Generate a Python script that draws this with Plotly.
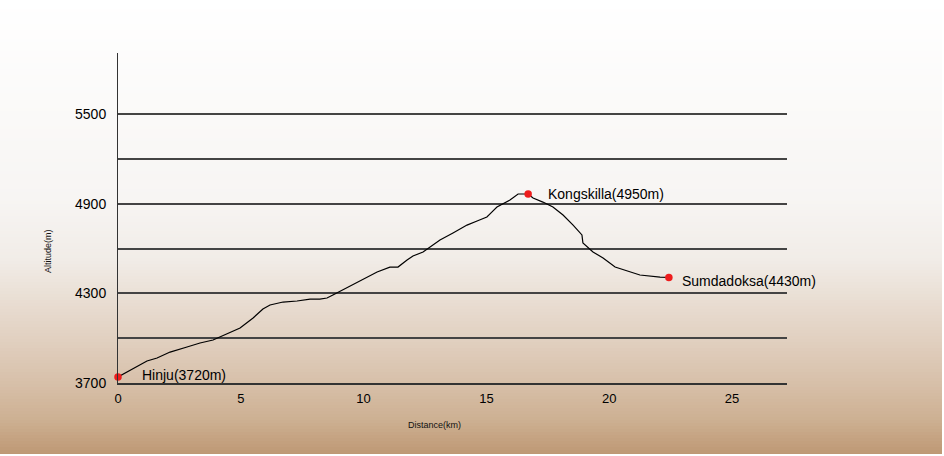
import plotly.graph_objects as go

# Elevation profile (distance in km, altitude in m)
distance_km = [0.0, 1.18, 1.59, 2.12, 2.81, 3.34, 3.87, 4.44, 4.97, 5.50, 5.90, 6.19,
               6.72, 7.29, 7.82, 8.22, 8.51, 8.75, 9.45, 10.14, 10.55, 11.07, 11.40,
               11.77, 12.01, 12.42, 12.83, 13.11, 13.64, 14.21, 14.62, 15.02, 15.23,
               15.43, 15.96, 16.29, 16.70, 16.90, 17.30, 17.71, 18.12, 18.53, 18.89,
               18.93, 19.34, 19.75, 20.24, 20.77, 21.25, 22.07, 22.43]
altitude_m = [3740, 3847, 3867, 3907, 3941, 3968, 3988, 4028, 4068, 4135, 4195, 4222,
              4242, 4249, 4262, 4262, 4269, 4289, 4349, 4409, 4443, 4476, 4476,
              4523, 4550, 4577, 4624, 4657, 4704, 4757, 4784, 4811, 4845,
              4878, 4925, 4965, 4965, 4938, 4911, 4878, 4824, 4757, 4691,
              4637, 4577, 4537, 4476, 4450, 4423, 4409, 4406]

# Named stops
stop_names = ["Hinju", "Kongskilla", "Sumdadoksa"]
stop_label_alt = [3720, 4950, 4430]
stop_km = [0.0, 16.70, 22.43]
stop_alt = [3740, 4965, 4406]

# Axis ticks
y_ticks = [3700, 4000, 4300, 4600, 4900, 5200, 5500]
y_tick_text = ["3700", "", "4300", "", "4900", "", "5500"]
x_ticks = [0, 5, 10, 15, 20, 25]

W, H = 944, 456
L, R, T, B = 118, 157, 53, 73
PW, PH = W - L - R, H - T - B


def px_to_paper_x(px):
    return (px - L) / PW


def py_to_paper_y(py):
    return (H - B - py) / PH


# background gradient (pixel row -> colour)
grad = [(0, (255, 255, 255)), (200, (247, 245, 243)), (260, (241, 236, 231)),
        (300, (233, 222, 211)), (340, (225, 208, 192)), (380, (216, 193, 171)),
        (420, (205, 176, 146)), (454, (190, 152, 116))]


def colour_at(y):
    for (y0, c0), (y1, c1) in zip(grad[:-1], grad[1:]):
        if y0 <= y <= y1:
            t = (y - y0) / (y1 - y0)
            return "rgb(%d,%d,%d)" % tuple(round(a + (b - a) * t) for a, b in zip(c0, c1))
    return "rgb(%d,%d,%d)" % grad[-1][1]


shapes = []
step = 3
for y in range(0, 454, step):
    shapes.append(dict(
        type="rect", xref="paper", yref="paper", layer="below",
        x0=px_to_paper_x(0), x1=px_to_paper_x(942),
        y0=py_to_paper_y(min(y + step + 0.5, 454)), y1=py_to_paper_y(y),
        fillcolor=colour_at(y + step / 2), line=dict(width=0)))

fig = go.Figure()
fig.add_trace(go.Scatter(x=distance_km, y=altitude_m, mode="lines",
                         line=dict(color="black", width=1.2), hoverinfo="skip",
                         showlegend=False))
fig.add_trace(go.Scatter(x=stop_km, y=stop_alt, mode="markers",
                         marker=dict(color="#ee1c1c", size=7.5), showlegend=False,
                         cliponaxis=False))

FONT = "Liberation Sans, Arial, sans-serif"
label_font = dict(family=FONT, size=14, color="#000")
shifts = [(22, 2), (18, 0), (11, -3)]
annotations = []
for name, alt_lbl, xk, ya, (dx, dy) in zip(stop_names, stop_label_alt, stop_km, stop_alt, shifts):
    annotations.append(dict(x=xk, y=ya, xref="x", yref="y", text=f"{name}({alt_lbl}m)",
                            showarrow=False, xanchor="left", yanchor="middle",
                            xshift=dx, yshift=dy, font=label_font))

annotations.append(dict(x=px_to_paper_x(48), y=py_to_paper_y(251), xref="paper", yref="paper",
                        text="Altitude(m)", showarrow=False, textangle=-90,
                        xanchor="center", yanchor="middle",
                        font=dict(family=FONT, size=9, color="#111")))
annotations.append(dict(x=px_to_paper_x(434), y=py_to_paper_y(425), xref="paper", yref="paper",
                        text="Distance(km)", showarrow=False,
                        xanchor="center", yanchor="middle",
                        font=dict(family=FONT, size=9, color="#111")))

fig.update_layout(
    width=W, height=H,
    margin=dict(l=L, r=R, t=T, b=B, pad=0),
    paper_bgcolor="white",
    plot_bgcolor="rgba(0,0,0,0)",
    shapes=shapes,
    annotations=annotations,
    font=dict(family=FONT, size=13, color="#111"),
    xaxis=dict(range=[0, 669 / 24.56], tickvals=x_ticks, showgrid=False, zeroline=False,
               showline=True, linecolor="#333", linewidth=1.5,
               ticks="outside", ticklen=3, tickcolor="rgba(0,0,0,0)",
               tickfont=dict(family=FONT, size=13, color="#000")),
    yaxis=dict(range=[3700, 3700 + PH / 0.1494], tickvals=y_ticks, ticktext=y_tick_text,
               showgrid=True, gridcolor="#444", gridwidth=1.6, zeroline=False,
               showline=True, linecolor="#333", linewidth=1,
               ticks="outside", ticklen=8, tickcolor="rgba(0,0,0,0)",
               tickfont=dict(family=FONT, size=14, color="#000")),
)

fig.write_html("out.html", config={"displayModeBar": False},
               post_script="document.body.style.margin='0';document.body.style.overflow='hidden';")
